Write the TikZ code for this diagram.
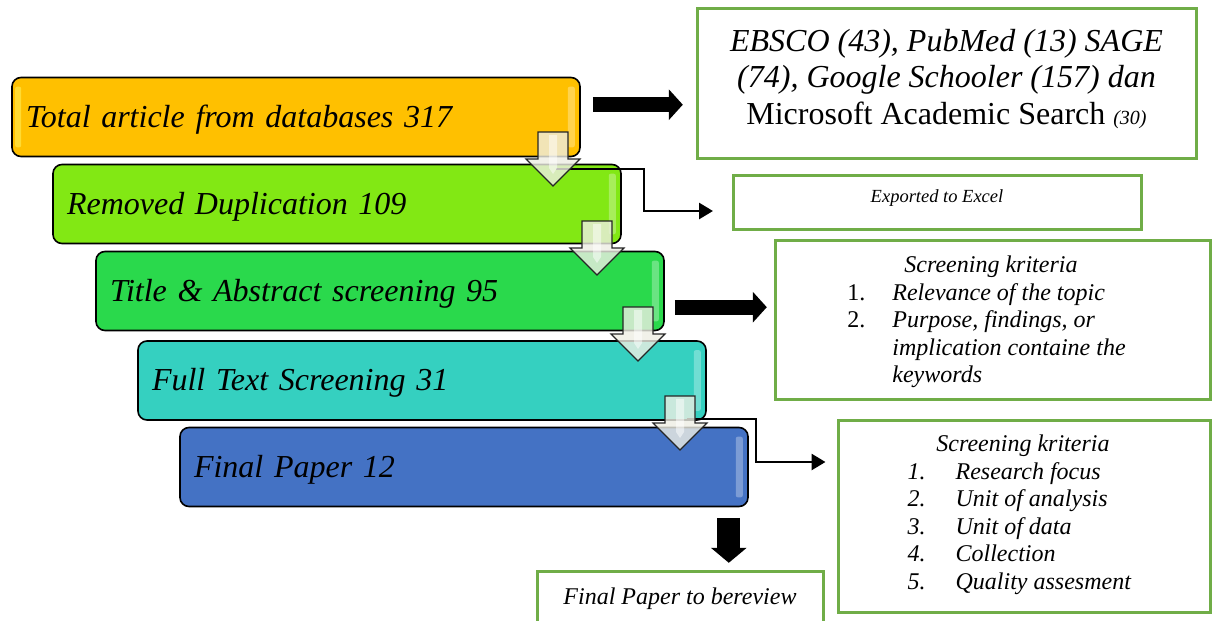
\documentclass[tikz,border=0pt]{standalone}
\usepackage{fontspec}
\setmainfont{Liberation Serif}
\usetikzlibrary{arrows.meta,calc}
\definecolor{cOrange}{HTML}{FFC000}
\definecolor{cLime}{HTML}{82E814}
\definecolor{cGreen}{HTML}{2AD94C}
\definecolor{cTeal}{HTML}{35D0C0}
\definecolor{cBlue}{HTML}{4472C4}
\definecolor{cBorder}{HTML}{70AD47}
\definecolor{cArrow}{HTML}{EEEEE4}
\tikzset{
  stage/.style={draw=black, line width=1.6pt, rounded corners=9pt, minimum height=79pt,
    text width=540pt, inner xsep=14pt, inner ysep=0pt, align=left,
    text height=25pt, text depth=5pt,
    font=\fontsize{32}{36}\selectfont\itshape},
  rbox/.style={draw=cBorder, line width=3pt, fill=white, inner sep=0pt},
  lbl/.style={inner sep=0pt, align=center},
  dnstyle/.style={draw=black!85, line width=1.2pt, fill=cArrow, fill opacity=0.8, line join=miter},
  elbow/.style={line width=2.8pt, -{Triangle[length=14pt,width=16pt]}},
  bigarrow/.style={line width=15pt, -{Triangle[length=14pt,width=30pt]}},
  downbig/.style={line width=23pt, -{Triangle[length=15pt,width=35pt]}},
  gloss/.style={fill=white, fill opacity=0.3, draw=none, rounded corners=2pt},
  dnarr/.pic={
    \path[dnstyle] (-15,0) -- (15,0) -- (15,27) -- (27,27) -- (0,54) -- (-27,27) -- (-15,27) -- cycle;
    \fill[white, opacity=0.5] (-4,3) -- (4,3) -- (4,36) -- (0,42) -- (-4,36) -- cycle;
  }
}
\begin{document}
\begin{tikzpicture}[x=1pt,y=-1pt]
\useasboundingbox (0,0) rectangle (1216,621);
\clip (0,0) rectangle (1216,621);
\fill[white] (0,0) rectangle (1216,621);

% stage boxes
\node[stage, fill=cOrange] (total) at (296,117) {Total article from databases 317};
\node[stage, fill=cLime] (removed) at (337,204) {Removed Duplication 109};
\node[stage, fill=cGreen] (title) at (380,291) {Title \& Abstract screening 95};
\node[stage, fill=cTeal] (full) at (422,380.5) {Full Text Screening 31};
\node[stage, fill=cBlue] (final) at (464,467) {Final Paper 12};

% gloss strips
\foreach \b in {total,removed,title,full,final}{
  \fill[gloss] ([shift={(-13,10)}]\b.north east) rectangle ([shift={(-6,-10)}]\b.south east);
}
\fill[yellow!60!white, opacity=0.5, rounded corners=2pt] ([shift={(4,10)}]total.north west) rectangle ([shift={(10,-10)}]total.south west);

% elbow connectors (drawn under the down arrows)
\coordinate (s1) at (556,169);
\coordinate (s2) at (687,419);
\coordinate (t1) at ([shift={(-20,9)}]733,202);
\draw[elbow] (s1) -| (644,190) |- (t1);

% right boxes
\node[rbox, minimum width=499pt, minimum height=150pt] (ebsco) at (946.5,83) {};
\node[lbl, font=\fontsize{32}{36.5}\selectfont] (ebscotext) at ([yshift=4pt]ebsco.center)
  {\textit{EBSCO (43), PubMed (13) SAGE}\\\textit{(74), Google Schooler (157) dan}\\Microsoft Academic Search \textit{\fontsize{20}{20}\selectfont(30)}};

\node[rbox, minimum width=408pt, minimum height=54pt] (exported) at (937,202) {};
\node[lbl, font=\fontsize{18.5}{20}\selectfont\itshape] (exportedtext) at ([yshift=4pt]exported.center) {Exported to Excel};

\node[rbox, minimum width=435pt, minimum height=159pt] (crit1) at (992.5,319.5) {};
\node[lbl, font=\fontsize{24}{27.5}\selectfont] (crit1text) at ([xshift=-6pt,yshift=-2.5pt]crit1.center)
  {\begin{tabular}{@{}p{45pt}@{}l@{}}
   \multicolumn{2}{c}{\hspace{9pt}\textit{Screening kriteria}}\\
   1. & \textit{Relevance of the topic}\\
   2. & \textit{Purpose, findings, or}\\
      & \textit{implication containe the}\\
      & \textit{keywords}
   \end{tabular}};

\node[rbox, minimum width=372pt, minimum height=192pt] (crit2) at (1024,516) {};
\node[lbl, font=\fontsize{24}{27.5}\selectfont] (crit2text) at ([xshift=-4.5pt,yshift=1pt]crit2.center)
  {\begin{tabular}{@{}p{48pt}@{}l@{}}
   \multicolumn{2}{c}{\hspace{7pt}\textit{Screening kriteria}}\\
   \textit{1.} & \textit{Research focus}\\
   \textit{2.} & \textit{Unit of analysis}\\
   \textit{3.} & \textit{Unit of data}\\
   \textit{4.} & \textit{Collection}\\
   \textit{5.} & \textit{Quality assesment}
   \end{tabular}};

\node[rbox, minimum width=286pt, minimum height=56pt] (review) at (680,599) {};
\node[lbl, font=\fontsize{24}{27}\selectfont\itshape] (reviewtext) at ([yshift=0pt]review.center) {Final Paper to bereview};

\coordinate (t2) at ([shift={(-11,-54)}]crit2.west);
\draw[elbow] (s2) -| (756,440) |- (t2);

% big black arrows
\draw[bigarrow] ([shift={(12,28)}]total.north east) -- ++(90,0);
\draw[bigarrow] ([shift={(10,56.5)}]title.north east) -- ++(92,0);
\draw[downbig] ([shift={(-20,10.5)}]final.south east) -- ++(0,45);

% down block arrows between stages
\pic at (553,132) {dnarr};
\pic at (597,221) {dnarr};
\pic at (638,307) {dnarr};
\pic at (680,396) {dnarr};
\end{tikzpicture}
\end{document}
